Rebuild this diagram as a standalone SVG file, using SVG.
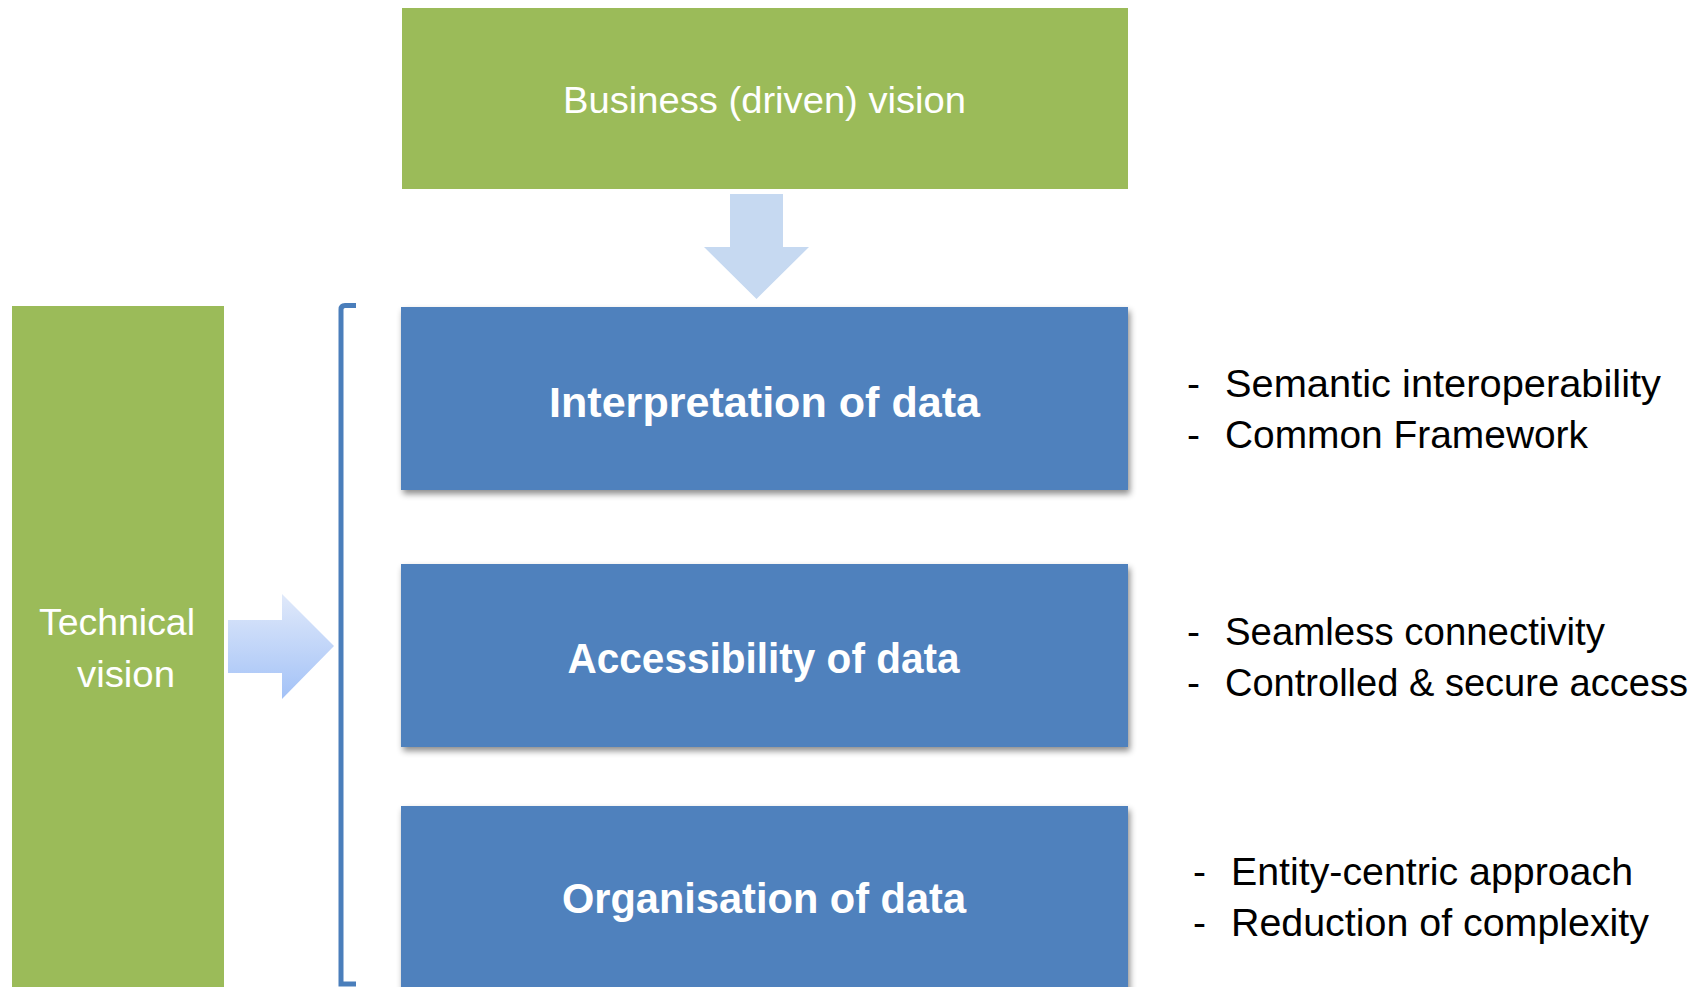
<svg xmlns="http://www.w3.org/2000/svg" width="1697" height="987" viewBox="0 0 1697 987">
  <style>
    .green { fill: #9BBB59; }
    .blue { fill: #4F81BD; }
    .gtxt { font-family: "Liberation Sans", Arial, sans-serif; font-size: 37px; fill: #FFFFFF; }
    .btxt { font-family: "Liberation Sans", Arial, sans-serif; font-size: 42px; font-weight: bold; fill: #FFFFFF; text-anchor: middle; }
    .bul { font-family: "Liberation Sans", Arial, sans-serif; font-size: 39px; fill: #000000; }
  </style>
  <defs>
    <filter id="shadow" x="-5%" y="-10%" width="115%" height="130%">
      <feDropShadow dx="2" dy="4" stdDeviation="3" flood-color="#000000" flood-opacity="0.45"/>
    </filter>
    <linearGradient id="rarrow" x1="0" y1="0" x2="0" y2="1">
      <stop offset="0" stop-color="#E0E9FA"/>
      <stop offset="1" stop-color="#A3C2F7"/>
    </linearGradient>
  </defs>
  <rect width="1697" height="987" fill="#FFFFFF"/>

  <g id="business-vision">
    <rect class="green" x="402" y="8" width="726" height="181"/>
    <text class="gtxt" x="563" y="113" textLength="403" lengthAdjust="spacingAndGlyphs">Business (driven) vision</text>
  </g>

  <g id="technical-vision">
    <rect class="green" x="12" y="306" width="212" height="690"/>
    <text class="gtxt" x="39" y="635" textLength="156" lengthAdjust="spacingAndGlyphs">Technical</text>
    <text class="gtxt" x="77" y="687" textLength="98" lengthAdjust="spacingAndGlyphs">vision</text>
  </g>

  <g id="interpretation">
    <rect class="blue" x="401" y="307" width="727" height="183" filter="url(#shadow)"/>
    <text class="btxt" x="764.5" y="417" textLength="431" lengthAdjust="spacingAndGlyphs">Interpretation of data</text>
  </g>

  <g id="accessibility">
    <rect class="blue" x="401" y="564" width="727" height="183" filter="url(#shadow)"/>
    <text class="btxt" x="763.5" y="673" textLength="392" lengthAdjust="spacingAndGlyphs">Accessibility of data</text>
  </g>

  <g id="organisation">
    <rect class="blue" x="401" y="806" width="727" height="200" filter="url(#shadow)"/>
    <text class="btxt" x="764" y="913" textLength="404" lengthAdjust="spacingAndGlyphs">Organisation of data</text>
  </g>

  <g id="bullets-interpretation">
    <text class="bul" x="1187" y="397">-</text>
    <text class="bul" x="1225" y="397" textLength="436" lengthAdjust="spacingAndGlyphs">Semantic interoperability</text>
    <text class="bul" x="1187" y="448">-</text>
    <text class="bul" x="1225" y="448" textLength="363" lengthAdjust="spacingAndGlyphs">Common Framework</text>
  </g>

  <g id="bullets-accessibility">
    <text class="bul" x="1187" y="645">-</text>
    <text class="bul" x="1225" y="645" textLength="380" lengthAdjust="spacingAndGlyphs">Seamless connectivity</text>
    <text class="bul" x="1187" y="696">-</text>
    <text class="bul" x="1225" y="696" textLength="463" lengthAdjust="spacingAndGlyphs">Controlled &amp; secure access</text>
  </g>

  <g id="bullets-organisation">
    <text class="bul" x="1193" y="885">-</text>
    <text class="bul" x="1231" y="885" textLength="402" lengthAdjust="spacingAndGlyphs">Entity-centric approach</text>
    <text class="bul" x="1193" y="936">-</text>
    <text class="bul" x="1231" y="936" textLength="418" lengthAdjust="spacingAndGlyphs">Reduction of complexity</text>
  </g>

  <g id="connectors">
    <polygon points="730,194 783,194 783,247 809,247 756.5,299 704,247 730,247" fill="#C6D9F1"/>
    <polygon points="228,620 282,620 282,594 334,646 282,699 282,673 228,673" fill="url(#rarrow)"/>
    <path d="M356,305.5 L345,305.5 Q341,305.5 341,309.5 L341,984 L356,984" fill="none" stroke="#4A7EBB" stroke-width="5"/>
  </g>
</svg>
